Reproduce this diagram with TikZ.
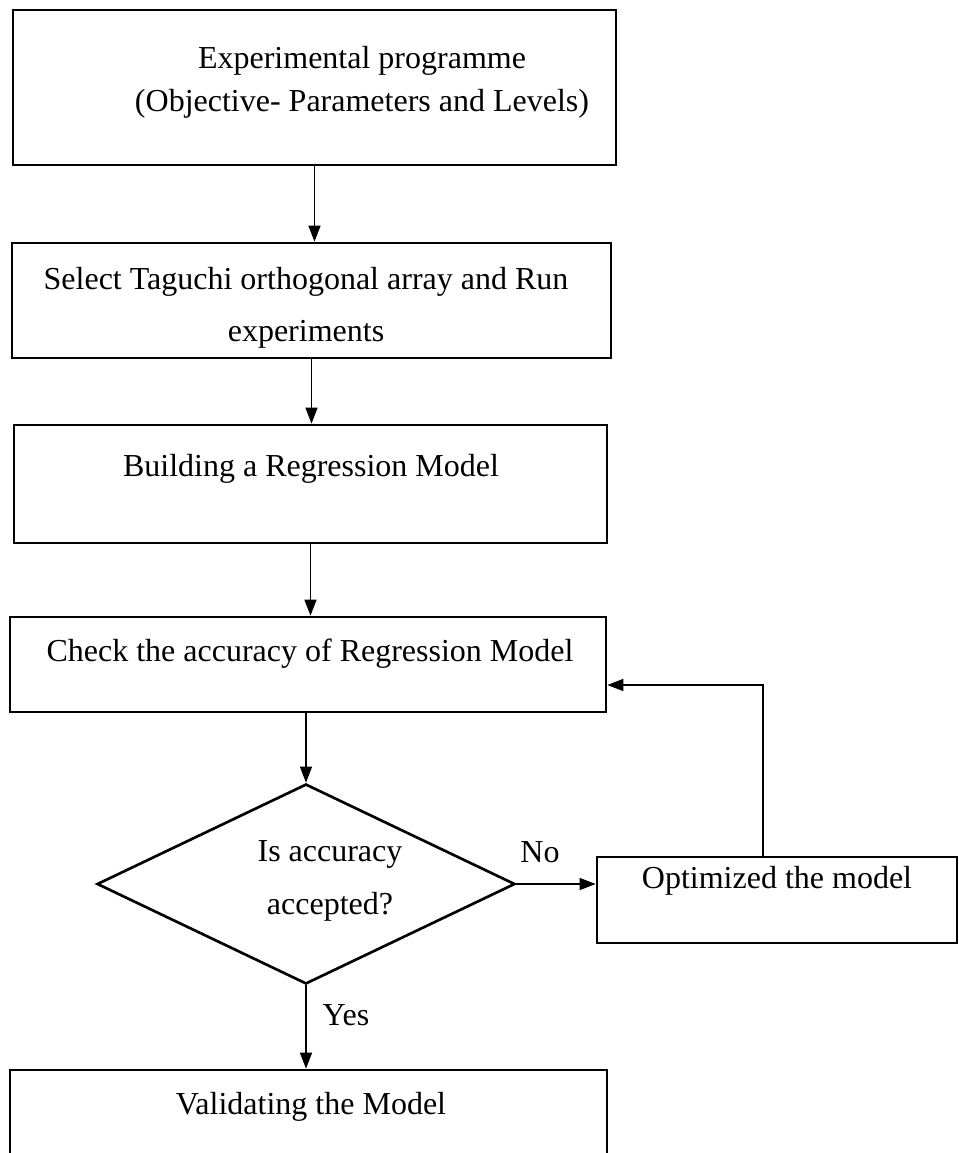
\documentclass[tikz,border=0pt]{standalone}
\usepackage{fontspec}
\setmainfont{Liberation Serif}
\usetikzlibrary{arrows.meta,shapes.geometric,fit}
\begin{document}
\begin{tikzpicture}[x=0.375pt,y=-0.375pt,
    box/.style={draw,line width=1pt,inner sep=0pt},
    txt/.style={align=center,font=\fontsize{12pt}{16pt}\selectfont},
    arr/.style={line width=0.5pt,-{Triangle[length=6pt,width=4.5pt]}}]
  \useasboundingbox (0,0) rectangle (959,1153);
  \clip (0,0) rectangle (959,1153);
  \node[box,fit={(13,10) (616,165)}] (prog) {};
  \node[txt] (progtxt) at (362,82) {Experimental programme\\(Objective- Parameters and Levels)};
  \node[box,fit={(12,243) (611,358)}] (taguchi) {};
  \node[txt,font=\fontsize{12pt}{19.5pt}\selectfont] (taguchitxt) at (306,308) {Select Taguchi orthogonal array and Run\\experiments};
  \node[box,fit={(14,425) (607,543)}] (regr) {};
  \node[txt] (regrtxt) at (311,469) {Building a Regression Model};
  \node[box,fit={(10,617) (606,712)}] (check) {};
  \node[txt] (checktxt) at (310,654) {Check the accuracy of Regression Model};
  \node[draw,diamond,line width=1pt,inner sep=0pt,minimum width=156.75pt,minimum height=75pt] (dec) at (306,884) {};
  \node[txt,font=\fontsize{12pt}{20pt}\selectfont] (dectxt) at (330,881) {Is accuracy\\accepted?};
  \node[box,fit={(597,857) (957,943)}] (opt) {};
  \node[txt] (opttxt) at (777,881) {Optimized the model};
  \node[box,fit={(10,1070) (607,1200)}] (valid) {};
  \node[txt] (validtxt) at (311,1107) {Validating the Model};
  \node[txt] (nolbl) at (540,852) {No};
  \node[txt] (yeslbl) at (346,1015) {Yes};
  \coordinate (turn) at (763,685);
  \draw[arr] (prog.south) -- (prog.south |- taguchi.north);
  \draw[arr] (taguchi.south) -- (taguchi.south |- regr.north);
  \draw[arr] (regr.south) -- (regr.south |- check.north);
  \draw[arr] (check.south -| dec.north) -- (dec.north);
  \draw[arr] (dec.east) -- (opt.west |- dec.east);
  \draw[arr] (opt.north -| turn) -- (turn) -- (check.east |- turn);
  \draw[arr] (dec.south) -- (dec.south |- valid.north);
\end{tikzpicture}
\end{document}
